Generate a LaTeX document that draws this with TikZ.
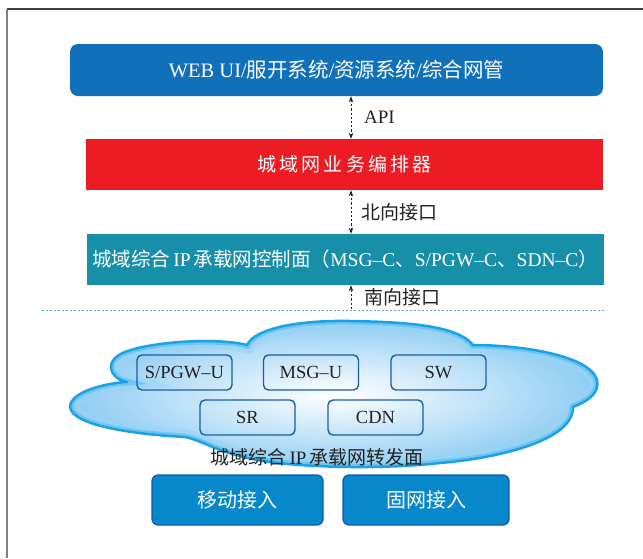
\documentclass[tikz,border=0pt]{standalone}
\usepackage{fontspec}
\setmainfont{Liberation Serif}
\newfontfamily\cjk{Noto Sans CJK SC}
\usetikzlibrary{arrows.meta,calc}
\definecolor{topblue}{HTML}{1170BA}
\definecolor{orchred}{HTML}{ED1C24}
\definecolor{ctrlteal}{HTML}{178FA8}
\definecolor{accfill}{HTML}{0688CA}
\definecolor{accline}{HTML}{0B5CAB}
\definecolor{boxline}{HTML}{1A5EA8}
\definecolor{cloudedge}{HTML}{1AA2E8}
\definecolor{cloudin}{HTML}{8FCDF2}
\definecolor{sepline}{HTML}{5AA8D8}
\definecolor{txtdark}{HTML}{222222}
\begin{document}
\begin{tikzpicture}[x=1pt,y=-1pt,
  bandbox/.style={inner sep=0pt,text=white,font=\fontsize{19}{22}\selectfont},
  upbox/.style={draw=boxline,line width=1.4pt,rounded corners=5pt,minimum width=95pt,minimum height=35pt,inner sep=0pt,text=txtdark,font=\fontsize{18.5}{22}\selectfont},
  accbox/.style={draw=accline,fill=accfill,line width=1.2pt,rounded corners=6pt,minimum width=168pt,minimum height=50pt,inner sep=0pt,text=white,font=\fontsize{20}{24}\selectfont\cjk},
  ifarrow/.style={line width=0.8pt,draw=txtdark,dash pattern=on 2.2pt off 2pt},
  tipx/.style={-{Stealth[length=6pt,width=4.5pt]}},
  lbl/.style={anchor=west,inner sep=0pt,text=txtdark,font=\fontsize{19}{22}\selectfont}]
\useasboundingbox (0,0) rectangle (643,558);
% frame
\draw[draw=black!75,line width=1.2pt] (7,9) -- (643,9);
\draw[draw=black!50,line width=2pt] (7,9) -- (7,558);
% top boxes
\node[bandbox,fill=topblue,rounded corners=8pt,minimum width=533pt,minimum height=52pt,font=\fontsize{20.5}{24}\selectfont] (web) at (336.5,70)
  {WEB UI/{\cjk 服开系统}/{\cjk 资源系统}/{\cjk 综合网管}};
\node[bandbox,fill=orchred,minimum width=517pt,minimum height=51pt] (orch) at (344.5,164.5)
  {\cjk 城\,域\,网\,业\,务\,编\,排\,器};
\node[bandbox,fill=ctrlteal,minimum width=517pt,minimum height=51pt,font=\fontsize{19.5}{23}\selectfont] (ctrl) at (345,259.5)
  {{\cjk 城域综合}\,IP\,{\cjk 承载网控制面（}MSG–C{\cjk 、}S/PGW–C{\cjk 、}SDN–C{\cjk ）}};
% arrows
\coordinate (ax) at (351,0);
\coordinate (sb) at (351,309);
\draw[ifarrow,{Stealth[length=6pt,width=4.5pt]}-{Stealth[length=6pt,width=4.5pt]}] (web.south -| ax) -- (orch.north -| ax);
\draw[ifarrow,{Stealth[length=6pt,width=4.5pt]}-{Stealth[length=6pt,width=4.5pt]}] (orch.south -| ax) -- (ctrl.north -| ax);
\draw[ifarrow,tipx] (sb) -- (ctrl.south -| sb);
\node[lbl] (lapi) at (364,117) {API};
\node[lbl] (lnb) at (361,212) {\cjk 北向接口};
\node[lbl] (lsb) at (364,297) {\cjk 南向接口};
% separator
\coordinate (dl) at (42,310);
\coordinate (dr) at (605,310);
\draw[draw=sepline,line width=0.8pt,dash pattern=on 2pt off 2pt] (dl) -- (dr);
% cloud
\def\cloudpath{(70,407) .. controls (70,392) and (105,383) .. (127,382)
 .. controls (108,378) and (104,360) .. (125,352)
 .. controls (150,342) and (215,337) .. (247,345)
 .. controls (255,328) and (300,320) .. (350,321)
 .. controls (410,322) and (458,326) .. (473,345)
 .. controls (520,345) and (590,355) .. (597,380)
 .. controls (600,395) and (585,402) .. (573,407)
 .. controls (574,440) and (500,458) .. (440,463)
 .. controls (380,470) and (280,468) .. (240,456)
 .. controls (215,450) and (200,440) .. (185,437)
 .. controls (130,434) and (72,425) .. (70,407) -- cycle}
\shade[inner color=white,outer color=cloudin] \cloudpath;
\begin{scope}
\clip \cloudpath;
\draw[draw=cloudedge!45,line width=16pt,opacity=0.6] \cloudpath;
\draw[draw=cloudedge!70,line width=7pt,opacity=0.7] \cloudpath;
\end{scope}
\draw[draw=cloudedge,line width=2.5pt,line join=round] \cloudpath;
% user plane boxes
\node[upbox] (spgw) at (184.5,372.5) {S/PGW–U};
\node[upbox] (msgu) at (311,372.5) {MSG–U};
\node[upbox] (sw) at (438.5,372.5) {SW};
\node[upbox] (sr) at (247.5,417.5) {SR};
\node[upbox] (cdn) at (375.5,417.5) {CDN};
\node[inner sep=0pt,text=txtdark,font=\fontsize{19}{22}\selectfont] (fwd) at (317,457)
  {{\cjk 城域综合}\,IP\,{\cjk 承载网转发面}};
% access boxes
\node[accbox,minimum width=171pt] (mob) at (237.5,500) {移动接入};
\node[accbox,minimum width=166pt] (fix) at (426,500) {固网接入};
\end{tikzpicture}
\end{document}
